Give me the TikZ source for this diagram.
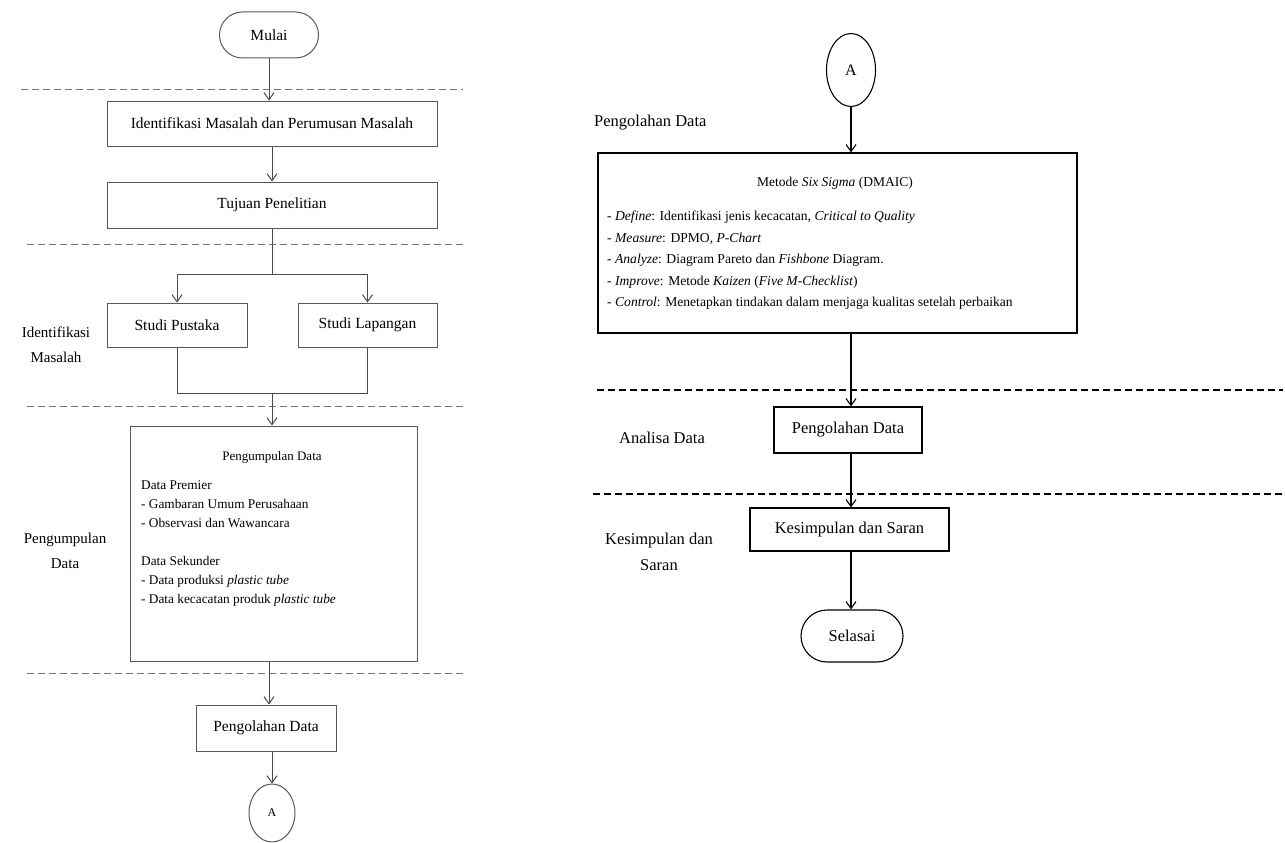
\documentclass[tikz,border=0pt]{standalone}
\usepackage{fontspec}
\setmainfont{Liberation Serif}
\usetikzlibrary{arrows.meta,shapes.geometric,shapes.misc}
\begin{document}
\begin{tikzpicture}[x=1pt,y=-1pt,
  lbox/.style={draw=black!65,line width=1pt,inner sep=0pt,font=\fontsize{15.5}{18}\selectfont},
  rbox/.style={draw=black,line width=1.1pt,inner sep=0pt,font=\fontsize{16.5}{19}\selectfont},
  lterm/.style={draw=black!65,line width=1pt,rounded rectangle,inner sep=0pt,font=\fontsize{15.5}{18}\selectfont},
  rterm/.style={draw=black,line width=1.1pt,rounded rectangle,inner sep=0pt,font=\fontsize{16.5}{19}\selectfont},
  lcon/.style={draw=black!65,line width=1pt,ellipse,inner sep=0pt,font=\fontsize{12}{14}\selectfont},
  rcon/.style={draw=black,line width=1.1pt,ellipse,inner sep=0pt,font=\fontsize{16}{18}\selectfont},
  larr/.style={draw=black!70,line width=1pt,-{Straight Barb[length=7pt,width=10pt]}},
  lline/.style={draw=black!70,line width=1pt},
  rarr/.style={draw=black,line width=1.1pt,-{Straight Barb[length=7pt,width=10pt]}},
  ldash/.style={draw=black!55,line width=1pt,dash pattern=on 7pt off 4pt},
  rdash/.style={draw=black,line width=1.2pt,dash pattern=on 7pt off 4pt},
  llabel/.style={align=center,font=\fontsize{15}{25}\selectfont},
  rlabel/.style={align=center,font=\fontsize{16.5}{26}\selectfont}]
\useasboundingbox[fill=white] (0,0) rectangle (1285,843);

% ---------- left column ----------
\node[lterm,minimum width=99pt,minimum height=46pt] (mulai) at (269,35) {Mulai};
\node[lbox,minimum width=330pt,minimum height=45pt] (ident) at (272,123.5) {Identifikasi Masalah dan Perumusan Masalah};
\node[lbox,minimum width=330pt,minimum height=46pt] (tujuan) at (272,205) {Tujuan Penelitian};
\node[lbox,minimum width=140pt,minimum height=44pt] (pustaka) at (177,325) {Studi Pustaka};
\node[lbox,minimum width=139pt,minimum height=44pt] (lapangan) at (367.5,325) {Studi Lapangan};
\node[lbox,minimum width=287pt,minimum height=235pt] (kumpul) at (273.5,543.5) {};
\node[font=\fontsize{13}{19}\selectfont] (kumpult) at (272,457) {Pengumpulan Data};
\node[anchor=north west,inner sep=0pt,align=left,font=\fontsize{13.3}{19}\selectfont] (kumpull) at (141,480)
  {Data Premier\\- Gambaran Umum Perusahaan\\- Observasi dan Wawancara\\[19pt]Data Sekunder\\- Data produksi \textit{plastic tube}\\- Data kecacatan produk \textit{plastic tube}};
\node[lbox,minimum width=140pt,minimum height=46pt] (olahL) at (266,728) {Pengolahan Data};
\node[lcon,minimum width=46pt,minimum height=58pt] (aL) at (272,813) {A};

\node[llabel] (labIdent) at (56,345) {Identifikasi\\Masalah};
\node[llabel] (labKumpul) at (65,551) {Pengumpulan\\Data};

\coordinate (d1a) at (21,89);  \coordinate (d1b) at (463,89);
\coordinate (d2a) at (27,244); \coordinate (d2b) at (463,244);
\coordinate (d3a) at (27,406); \coordinate (d3b) at (463,406);
\coordinate (d4a) at (27,673); \coordinate (d4b) at (463,673);
\draw[ldash] (d1a) -- (d1b);
\draw[ldash] (d2a) -- (d2b);
\draw[ldash] (d3a) -- (d3b);
\draw[ldash] (d4a) -- (d4b);

\draw[larr] (mulai.south) -- (mulai.south |- ident.north);
\draw[larr] (ident.south) -- (tujuan.north);
\coordinate (split) at (272,274);
\coordinate (join) at (272,393);
\draw[lline] (tujuan.south) -- (split);
\draw[larr] (split) -| (pustaka.north);
\draw[larr] (split) -| (lapangan.north);
\draw[lline] (pustaka.south) |- (join);
\draw[lline] (lapangan.south) |- (join);
\draw[larr] (join) -- (join |- kumpul.north);
\coordinate (k2) at (269,661);
\draw[larr] (k2) -- (k2 |- olahL.north);
\draw[larr] (olahL.south -| aL.north) -- (aL.north);

% ---------- right column ----------
\node[rcon,minimum width=49pt,minimum height=73pt] (aR) at (851,70) {A};
\node[anchor=west,inner sep=0pt,font=\fontsize{16.5}{19}\selectfont] (labOlah) at (594,123) {Pengolahan Data};
\node[draw=black,line width=1.1pt,inner sep=0pt,minimum width=479pt,minimum height=180pt] (six) at (837.5,243) {};
\node[font=\fontsize{13.5}{16}\selectfont] (sixt) at (835,183) {Metode \textit{Six Sigma} (DMAIC)};
\node[anchor=north west,inner sep=0pt,align=left,font=\fontsize{13.6}{21.5}\selectfont] (sixl) at (607,211)
  {- \textit{Define}: Identifikasi jenis kecacatan, \textit{Critical to Quality}\\
   - \textit{Measure}: DPMO, \textit{P-Chart}\\
   - \textit{Analyze}: Diagram Pareto dan \textit{Fishbone} Diagram.\\
   - \textit{Improve}: Metode \textit{Kaizen} (\textit{Five M-Checklist})\\
   - \textit{Control}: Menetapkan tindakan dalam menjaga kualitas setelah perbaikan};
\node[rbox,minimum width=148pt,minimum height=46pt] (olahR) at (848,430) {Pengolahan Data};
\node[rbox,minimum width=199pt,minimum height=43pt] (simpul) at (849.5,529.5) {Kesimpulan dan Saran};
\node[rterm,minimum width=102pt,minimum height=52pt] (selesai) at (852,636) {Selasai};

\node[rlabel] (labAnalisa) at (662,438) {Analisa Data};
\node[rlabel] (labSimpul) at (659,552) {Kesimpulan dan\\Saran};

\coordinate (r1a) at (597,390);  \coordinate (r1b) at (1283,390);
\coordinate (r2a) at (593,494);  \coordinate (r2b) at (1283,494);
\draw[rdash] (r1a) -- (r1b);
\draw[rdash] (r2a) -- (r2b);

\draw[rarr] (aR.south) -- (aR.south |- six.north);
\draw[rarr] (aR.south |- six.south) -- (aR.south |- olahR.north);
\draw[rarr] (aR.south |- olahR.south) -- (aR.south |- simpul.north);
\draw[rarr] (aR.south |- simpul.south) -- (aR.south |- selesai.north);
\end{tikzpicture}
\end{document}
